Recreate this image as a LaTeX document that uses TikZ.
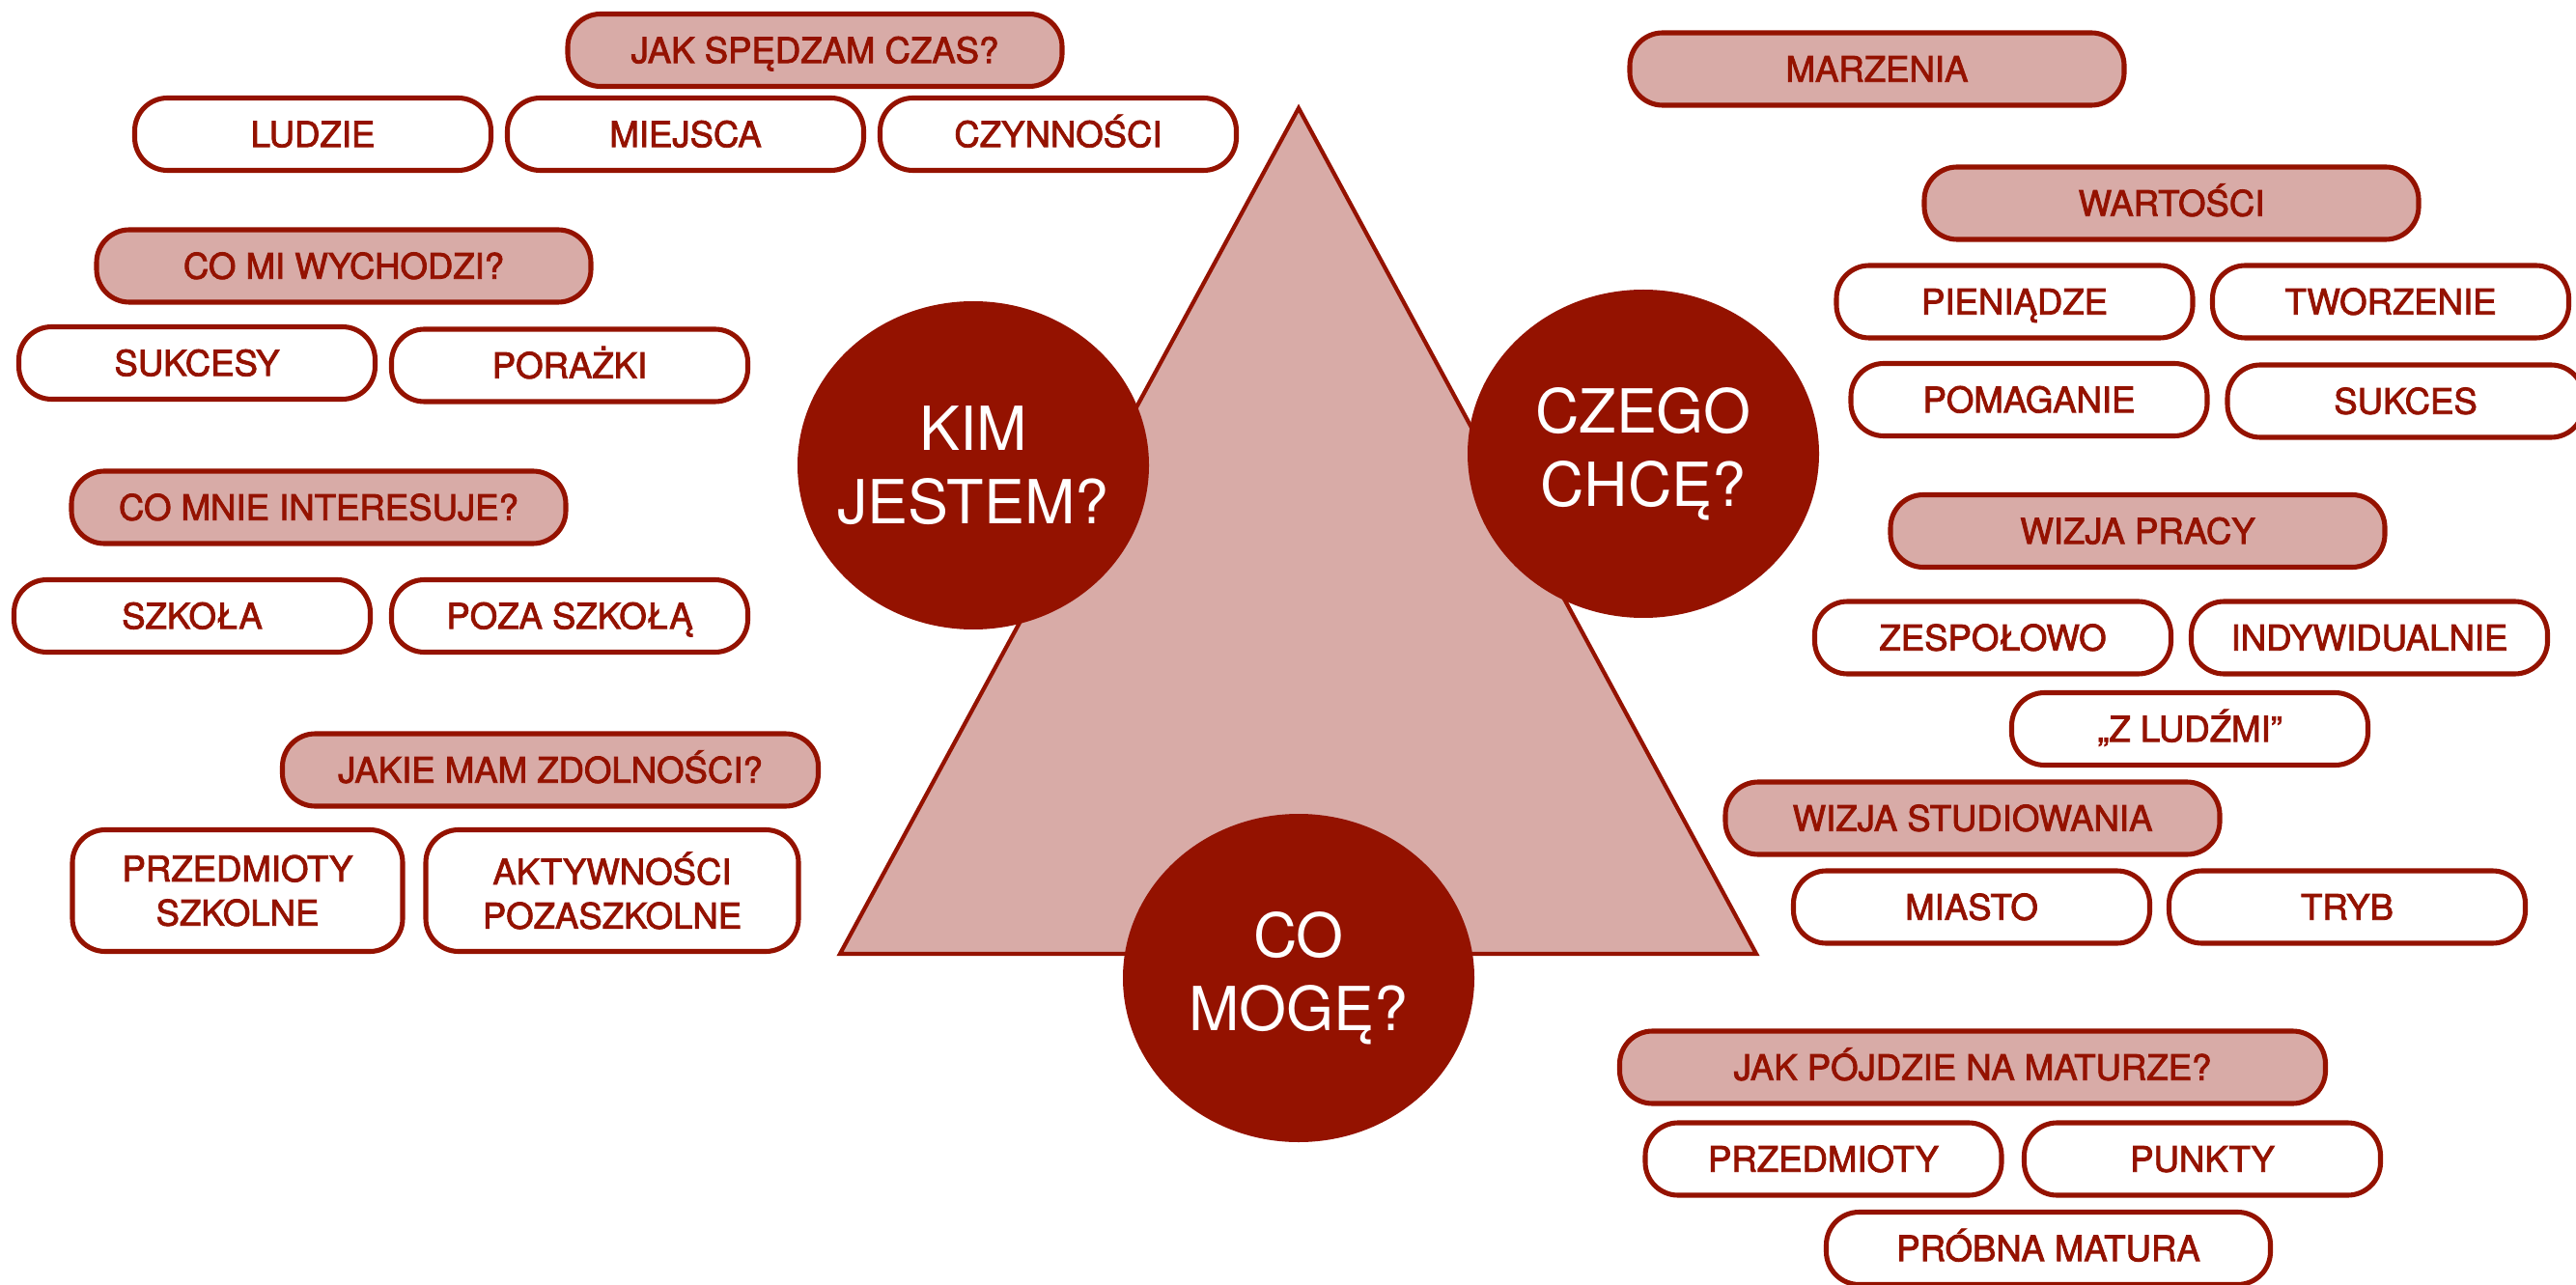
\documentclass[tikz,border=0pt]{standalone}
\usepackage{fontspec}
\setmainfont{TeX Gyre Heros}
\newfontfamily\pillfont[RawFeature={embolden=2.2}]{TeX Gyre Heros}
\usetikzlibrary{shapes.geometric}
\definecolor{darkrose}{HTML}{941200}
\definecolor{palerose}{HTML}{D8ABA7}

\begin{document}
\begin{tikzpicture}[
    pillbox/.style={draw=darkrose, line width=1.45pt, rounded corners=0.34cm, fill=white,
        text=darkrose, inner sep=0pt, font=\pillfont\fontsize{10.4}{13}\selectfont},
    pill/.style={pillbox, minimum width=3.69cm, minimum height=0.75cm, text height=7.5pt, text depth=0pt},
    head/.style={pill, fill=palerose, minimum width=5.12cm},
    twoline/.style={pillbox, minimum width=3.42cm, minimum height=1.26cm, align=center},
    core/.style={ellipse, fill=darkrose, text=white, minimum width=3.64cm, minimum height=3.40cm,
        inner sep=0pt, inner xsep=-4mm, align=center, font=\fontsize{17.9}{21.6}\selectfont}
]
    \useasboundingbox (0,0) rectangle (26.68,13.30);

    % Triangle
    \draw[draw=darkrose, fill=palerose, line width=1.2pt] (13.45,12.18) -- (8.70,3.42) -- (18.19,3.42) -- cycle;

    % Circles
    \node[core] (kim) at (10.08,8.48) {KIM\\JESTEM?};
    \node[core] (czego) at (17.02,8.60) {CZEGO\\CHCĘ?};
    \node[core] (moge) at (13.45,3.17) {CO\\MOGĘ?};

    %Left side
    \node[head] (czas) at (8.44,12.78) {JAK SPĘDZAM CZAS?};
    \node[pill] (ludzie) at (3.24,11.91) {LUDZIE};
    \node[pill] (miejsca) at (7.10,11.91) {MIEJSCA};
    \node[pill] (czynnosci) at (10.96,11.91) {CZYNNOŚCI};

    \node[head] (wychodzi) at (3.56,10.545) {CO MI WYCHODZI?};
    \node[pill] (sukcesy) at (2.04,9.54) {SUKCESY};
    \node[pill] (porazki) at (5.90,9.515) {PORAŻKI};

    \node[head] (interesuje) at (3.30,8.045) {CO MNIE INTERESUJE?};
    \node[pill] (szkola) at (1.99,6.92) {SZKOŁA};
    \node[pill] (pozaszkola) at (5.90,6.92) {POZA SZKOŁĄ};

    \node[head, minimum width=5.55cm] (zdolnosci) at (5.70,5.325) {JAKIE MAM ZDOLNOŚCI?};
    \node[twoline] (szkolne) at (2.46,4.075) {PRZEDMIOTY\\SZKOLNE};
    \node[twoline, minimum width=3.86cm] (aktywnosci) at (6.34,4.075) {AKTYWNOŚCI\\POZASZKOLNE};

    %Right side
    \node[head] (marzenia) at (19.44,12.585) {MARZENIA};

    \node[head] (wartosci) at (22.49,11.195) {WARTOŚCI};
    \node[pill] (pieniadze) at (20.865,10.175) {PIENIĄDZE};
    \node[pill] (tworzenie) at (24.76,10.175) {TWORZENIE};
    \node[pill] (pomaganie) at (21.015,9.16) {POMAGANIE};
    \node[pill] (sukces) at (24.915,9.145) {SUKCES};

    \node[head] (praca) at (22.14,7.80) {WIZJA PRACY};
    \node[pill] (zespolowo) at (20.64,6.695) {ZESPOŁOWO};
    \node[pill] (indywidualnie) at (24.54,6.695) {INDYWIDUALNIE};
    \node[pill] (zludzmi) at (22.68,5.75) {„Z LUDŹMI”};

    \node[head] (studia) at (20.43,4.825) {WIZJA STUDIOWANIA};
    \node[pill] (miasto) at (20.42,3.905) {MIASTO};
    \node[pill] (tryb) at (24.31,3.905) {TRYB};

    \node[head, minimum width=7.31cm] (matura) at (20.43,2.245) {JAK PÓJDZIE NA MATURZE?};
    \node[pill] (przedmioty) at (18.885,1.295) {PRZEDMIOTY};
    \node[pill] (punkty) at (22.81,1.295) {PUNKTY};
    \node[pill, minimum width=4.60cm] (probna) at (21.215,0.37) {PRÓBNA MATURA};

\end{tikzpicture}
\end{document}
